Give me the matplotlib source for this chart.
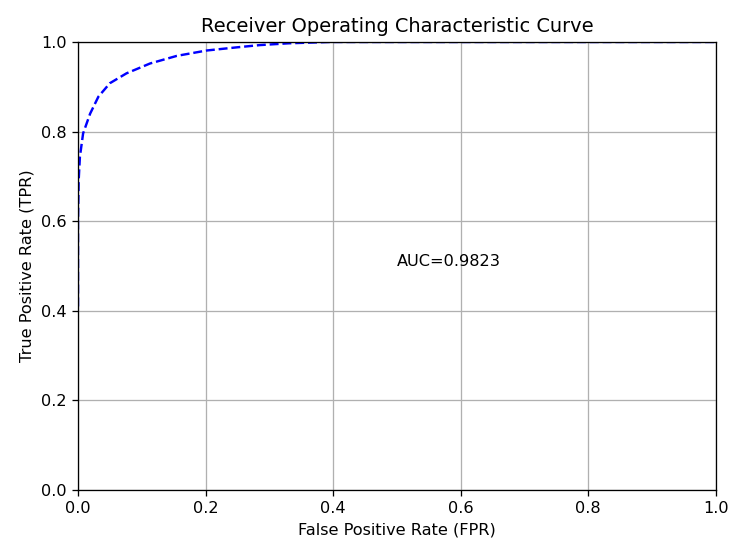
import matplotlib
matplotlib.use("Agg")
import matplotlib.pyplot as plt

# ROC points
fpr = [0.0, 0.0, 0.001, 0.003, 0.008, 0.019, 0.032, 0.05, 0.076, 0.113,
       0.155, 0.202, 0.249, 0.285, 0.33, 0.395, 1.0]
tpr = [0.41, 0.60, 0.69, 0.744, 0.796, 0.84, 0.878, 0.908, 0.930, 0.952,
       0.969, 0.981, 0.988, 0.993, 0.997, 1.0, 1.0]
auc = 0.9823

fig, ax = plt.subplots(figsize=(729 / 116, 538 / 116), dpi=116)
fig.subplots_adjust(left=0.107, right=0.982, top=0.922, bottom=0.089)

ax.plot(fpr, tpr, 'b--')
ax.text(0.5, 0.5, 'AUC=%.4f' % auc)

ax.set_xlim(0, 1)
ax.set_ylim(0, 1)
ax.set_xlabel('False Positive Rate (FPR)')
ax.set_ylabel('True Positive Rate (TPR)')
ax.set_title('Receiver Operating Characteristic Curve')
ax.grid(True)

fig.savefig('out.png', dpi=116)
